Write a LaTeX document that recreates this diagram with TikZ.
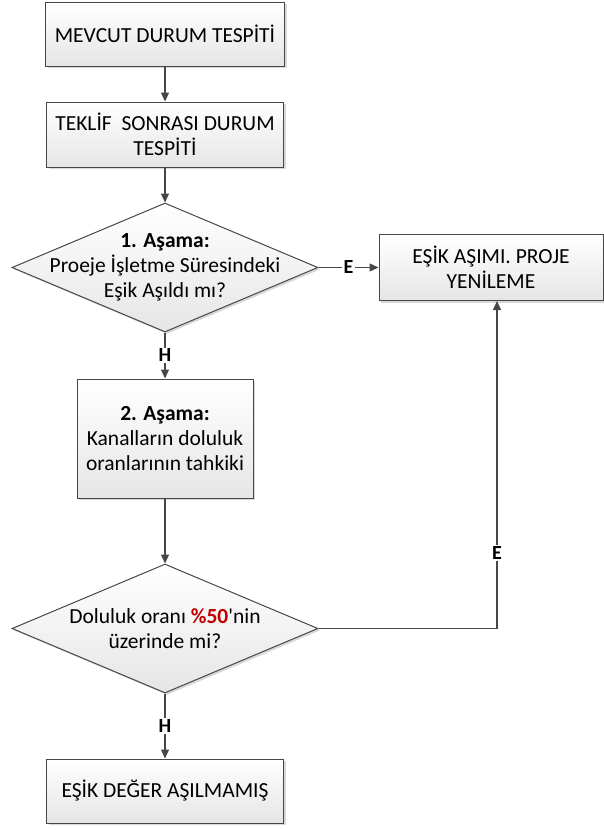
\documentclass[tikz,border=0pt]{standalone}
\usepackage{fontspec}
\setmainfont{Carlito}
\usetikzlibrary{shapes.geometric,arrows.meta,shadows}

\definecolor{linegray}{HTML}{474747}
\definecolor{darkred}{HTML}{C00000}

\begin{document}
\begin{tikzpicture}[x=1pt,y=-1pt,font=\fontsize{21.5}{25}\selectfont,
  box/.style={draw=linegray,line width=1pt,top color=white,bottom color=black!10,
    drop shadow={shadow xshift=2pt,shadow yshift=-2pt,fill=black!30,opacity=.5},
    align=center,inner sep=0pt},
  decision/.style={box,shape=diamond,minimum width=306pt,minimum height=129pt},
  arr/.style={draw=linegray,line width=1.2pt,-{Triangle[length=9pt,width=8pt]}},
  lbl/.style={fill=white,inner sep=1.5pt,font=\fontsize{20}{22}\selectfont\bfseries}]

   \useasboundingbox (0,0) rectangle (604,830);

   \node[box,minimum width=239pt,minimum height=64pt] (mevcut) at (165,34) {MEVCUT DURUM TESPİTİ};
   \node[box,minimum width=237pt,minimum height=65pt] (teklif) at (165,134.5) {TEKLİF~ SONRASI DURUM\\TESPİTİ};
   \node[decision] (asama1) at (165,267.5) {};
   \node[align=center] (asama1txt) at (asama1) {\textbf{1. Aşama:}\\Proeje İşletme Süresindeki\\Eşik Aşıldı mı?};
   \node[box,minimum width=224pt,minimum height=66pt] (yenileme) at (491,267.5) {EŞİK AŞIMI. PROJE\\YENİLEME};
   \node[box,minimum width=176pt,minimum height=119pt] (asama2) at (165,438.5) {\textbf{2. Aşama:}\\Kanalların doluluk\\oranlarının tahkiki};
   \node[decision] (doluluk) at (165,628.5) {};
   \node[align=center] (doluluktxt) at (doluluk) {Doluluk oranı \textcolor{darkred}{\textbf{\%50}}\textquotesingle nin\\üzerinde mi?};
   \node[box,minimum width=237pt,minimum height=64pt] (asilmamis) at (165,791) {EŞİK DEĞER AŞILMAMIŞ};

   \draw[arr] (mevcut.south) -- (teklif.north);
   \draw[arr] (teklif.south) -- (asama1.north);
   \draw[arr] (asama1.east) -- node[lbl]{E} (yenileme.west);
   \draw[arr] (asama1.south) -- node[lbl]{H} (asama2.north);
   \draw[arr] (asama2.south) -- (doluluk.north);
   \draw[arr] (doluluk.south) -- node[lbl]{H} (asilmamis.north);
   \draw[arr] (doluluk.east) -| node[lbl,pos=.615]{E} ([xshift=6pt]yenileme.south);
  \end{tikzpicture}
\end{document}
